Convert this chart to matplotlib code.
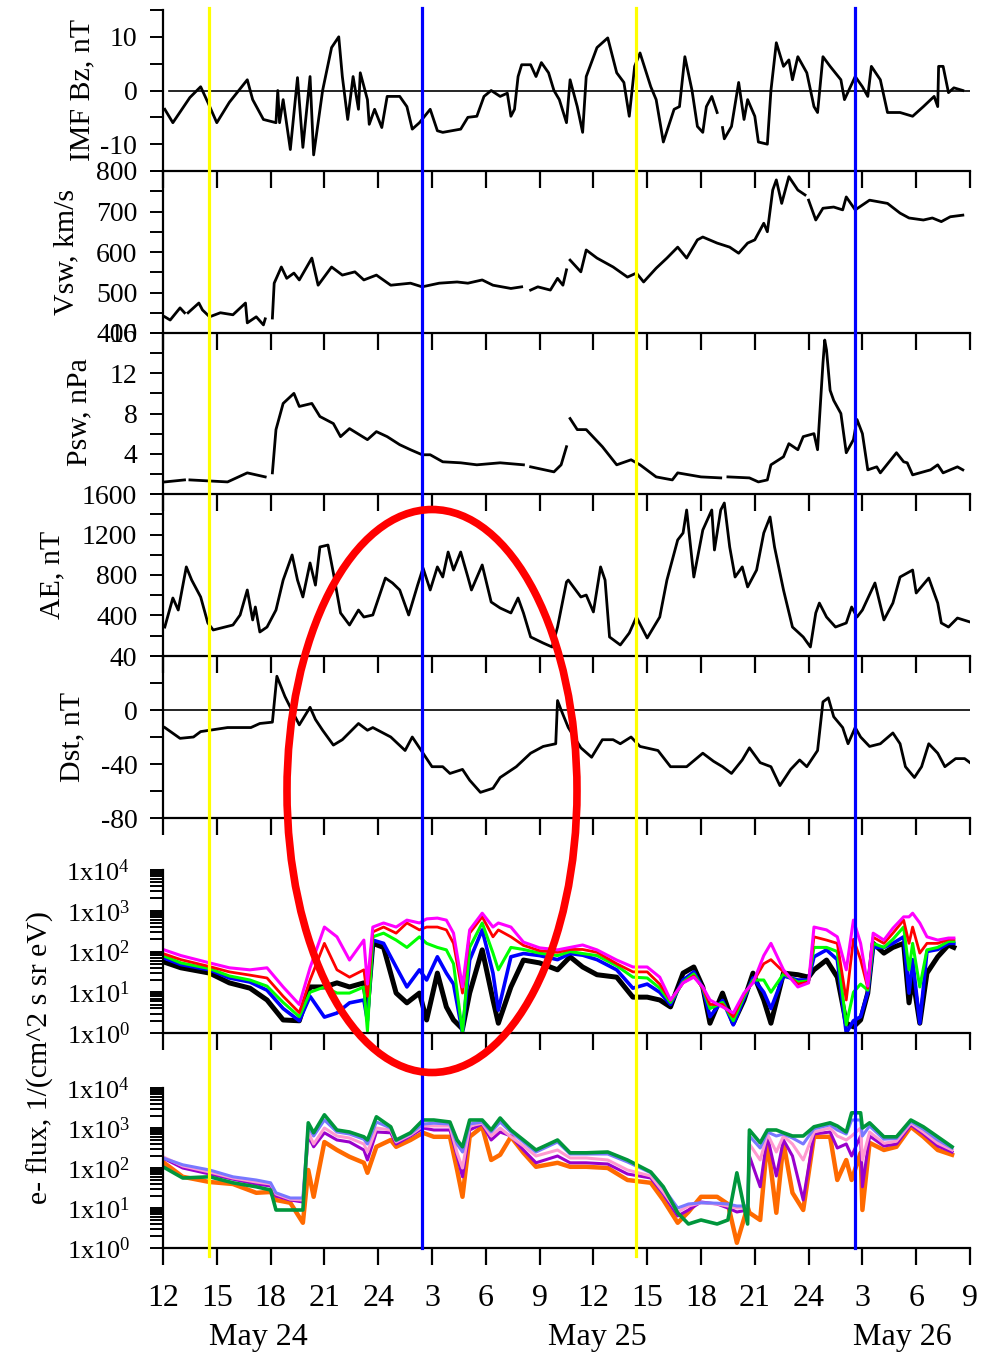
import matplotlib
matplotlib.use('Agg')
import matplotlib.pyplot as plt
import matplotlib.ticker as mticker
from matplotlib.lines import Line2D
from matplotlib.patches import Ellipse
import matplotlib.transforms as mtransforms
import numpy as np

plt.rcParams['font.family'] = 'Liberation Serif'
plt.rcParams['mathtext.fontset'] = 'custom'
plt.rcParams['mathtext.rm'] = 'Liberation Serif'
plt.rcParams['axes.unicode_minus'] = False

# time axis: hours since May 24 12:00 UT (None = data gap)
bz_t = [0.1, 0.55, 1.5, 2.1, 2.5, 3.0, 3.7, 4.7, 5.0, 5.6, 6.3, 6.4, 6.5, 6.7, 7.1, 7.5, 7.8, 8.2, 8.4, 8.9,
        9.4, 9.8, 10.0, 10.3, 10.6, 10.9, 11.0, 11.4, 11.5, 11.8, 12.2, 12.5, 13.2, 13.6, 13.9, 14.3, 14.9, 15.3,
        15.6, 16.6, 17.0, 17.5, 17.9, 18.3, 18.8, 19.2, 19.4, 19.6, 19.8, 20.0, 20.5, 20.8, 21.1, 21.5, 21.8,
        22.1, 22.5, 22.7, 23.1, 23.4, 23.6, 24.2, 24.8, 25.3, 25.7, 26.0, 26.3, 26.6, 27.2, 27.5, 27.9, 28.5,
        28.8, 29.1, 29.5, 29.8, 30.1, 30.3, 30.6, 30.9, None, 31.2, 31.3, 31.7, 32.1, 32.4, 32.6, 33.0, 33.2,
        33.7, 33.9, 34.2, 34.6, 34.9, 35.1, 35.4, 35.9, 36.3, 36.5, 36.8, 37.2, 37.8, 38.0, 38.6, 39.0, 39.3,
        39.5, 40.0, 40.4, 41.1, 41.8, 42.4, 43.0, 43.2, 43.25, 43.5, 43.8, 44.1, 44.6]
bz_v = [-3.5, -6, -1.3, 0.7, -2.2, -6, -2.2, 2, -1.7, -5.4, -6, 0, -6, -1.7, -11, 2.4, -10.6, 2.6, -12, 0,
        8, 10, 2.6, -5.4, 2.6, -3.5, 3.3, -1.7, -6.3, -3.5, -6.9, -1.1, -1.1, -3, -7.2, -6, -3.5, -7.5,
        -7.8, -7.2, -5, -4.8, -1.1, 0, -1.1, -0.5, -4.8, -3.5, 2.6, 4.8, 4.8, 2.6, 5.2, 3.3, 0,
        -1.7, -6, 2, -3, -7.8, 2.6, 8, 9.8, 3.3, 1.5, -4.8, 4.5, 7, 0.7, -1.7, -9.6, -3.5,
        -3, 6.3, 0, -6.7, -7.8, -3, -1.1, -4.1, None, -6.9, -9, -6.7, 1.5, -5.4, -1.7, -4.8, -9.6,
        -10, 0, 8.9, 4.5, 5.7, 2, 6.3, 3.3, -3, -4.1, 6.3, 4.5, 2, -1.7, 2.6, 0.7, -1.1,
        4.5, 2, -4.1, -4.1, -4.8, -3, -1.1, -3, 4.5, 4.5, -0.4, 0.5, 0]

vsw_t = [0.1, 0.4, 0.95, 1.2, None, 1.4, 2.0, 2.2, 2.6, 3.2, 3.9, 4.6, 4.7, 5.2, 5.6, 5.7, None, 6.1, 6.2, 6.6,
         6.9, 7.3, 7.6, 8.3, 8.65, 9.4, 10.0, 10.7, 11.2, 11.9, 12.7, 13.8, 14.45, 15.4, 16.4, 17.0, 17.8, 18.4,
         19.4, 20.0, None, 20.5, 20.9, 21.6, 22.0, 22.3, 22.5, None, 22.7, 23.3, 23.6, 24.2, 25.1, 25.9, 26.4,
         26.8, 27.5, 28.1, 28.7, 29.2, 29.8, 30.1, 30.9, 31.6, 32.1, 32.6, 33.0, 33.5, 33.7, 34.0, 34.2, 34.5,
         34.9, 35.4, 35.8, None, 36.0, 36.4, 36.8, 37.4, 37.9, 38.1, 38.6, 39.4, 40.4, 41.1, 41.6, 42.4, 42.9,
         43.4, 43.9, 44.6]
vsw_v = [440, 432, 462, 450, None, 450, 474, 457, 440, 450, 445, 474, 425, 440, 420, 435, None, 437, 523, 563,
         535, 548, 531, 585, 518, 563, 543, 551, 531, 543, 518, 523, 514, 523, 526, 523, 531, 518,
         510, 514, None, 506, 514, 506, 535, 518, 556, None, 580, 551, 605, 585, 563, 538, 548,
         526, 560, 585, 612, 585, 630, 637, 622, 612, 597, 622, 630, 671, 650, 753, 778, 720,
         786, 753, 741, None, 728, 679, 708, 711, 704, 736, 704, 728, 720, 696, 684, 679, 684,
         675, 687, 691]

psw_t = [0.1, 1.2, None, 1.5, 3.6, 4.7, 5.7, None, 6.1, 6.3, 6.7, 7.3, 7.6, 8.3, 8.75, 9.5, 9.9, 10.4, 11.4,
         11.9, 12.5, 13.2, 13.8, 14.45, 14.9, 15.6, 16.6, 17.5, 18.8, 20.1, None, 20.5, 21.8, 22.2, 22.5, None,
         22.7, 23.1, 23.6, 24.5, 25.3, 26.1, 26.6, 27.5, 28.4, 28.7, 30.0, 31.1, None, 31.5, 32.7, 33.2, 33.7,
         33.9, 34.6, 34.9, 35.4, 35.7, 36.3, 36.5, 36.8, 36.9, 37.0, 37.2, 37.4, 37.8, 38.1, 38.5, 38.7, 39.0,
         39.3, 39.8, 40.0, 40.9, 41.3, 41.5, 41.8, 42.8, 43.2, 43.5, 44.3, 44.6]
psw_v = [1.2, 1.4, None, 1.4, 1.2, 2.1, 1.7, None, 2.1, 6.4, 9.0, 10.0, 8.7, 9.0, 7.7, 7.0, 5.7, 6.5, 5.4,
         6.2, 5.7, 4.9, 4.4, 3.9, 3.9, 3.2, 3.1, 2.9, 3.1, 2.9, None, 2.7, 2.2, 2.9, 4.7, None,
         7.5, 6.4, 6.4, 4.7, 2.9, 3.4, 2.9, 1.7, 1.4, 2.1, 1.7, 1.6, None, 1.7, 1.6, 1.2, 1.4,
         2.9, 3.7, 5.0, 4.4, 5.7, 6.0, 4.4, 13.0, 15.3, 14.3, 10.3, 9.3, 8.0, 4.1, 5.4, 7.4, 6.0,
         2.4, 2.7, 2.1, 4.1, 3.2, 3.1, 1.9, 2.4, 2.9, 2.1, 2.7, 2.4]

ae_t = [0.1, 0.55, 0.85, 1.3, 1.6, 2.1, 2.5, 2.8, 3.9, 4.3, 4.7, 5.0, 5.15, 5.4, 5.8, 6.3, 6.7, 7.2, 7.5, 7.8,
        8.2, 8.5, 8.75, 9.2, 9.5, 9.9, 10.4, 10.9, 11.2, 11.7, 12.4, 12.8, 13.2, 13.7, 14.2, 14.5, 14.9, 15.3,
        15.6, 15.9, 16.2, 16.6, 17.0, 17.2, 17.8, 18.3, 18.8, 19.4, 19.8, 20.1, 20.5, 21.2, 21.7, 22.0, 22.5,
        22.6, 23.3, 23.6, 24.0, 24.4, 24.65, 24.9, 25.5, 26.0, 26.4, 27.0, 27.7, 28.1, 28.7, 29.0, 29.2, 29.6,
        30.1, 30.6, 30.75, 31.1, 31.3, 31.6, 31.9, 32.3, 32.6, 33.1, 33.5, 33.85, 34.1, 34.6, 35.1, 35.7,
        36.1, 36.4, 36.6, 37.0, 37.5, 38.1, 38.4, 38.7, 39.0, 39.7, 40.2, 40.7, 41.1, 41.8, 42.0, 42.7, 43.2,
        43.4, 43.8, 44.3, 45.0]
ae_v = [286, 573, 454, 880, 750, 583, 326, 257, 306, 405, 652, 356, 484, 237, 286, 454, 750, 998, 750, 583,
        919, 700, 1077, 1096, 820, 425, 306, 454, 385, 405, 770, 721, 652, 405, 701, 869, 652, 880,
        780, 1027, 849, 1027, 780, 652, 899, 533, 474, 425, 573, 425, 188, 128, 89, 286, 731,
        750, 583, 602, 435, 880, 750, 188, 109, 227, 385, 178, 385, 750, 1146, 1215, 1442, 780,
        1244, 1442, 1047, 1442, 1511, 1077, 780, 880, 682, 849, 1215, 1373, 1077, 652, 286, 188,
        89, 425, 523, 385, 286, 326, 484, 385, 454, 721, 356, 523, 780, 849, 622, 770, 523,
        326, 286, 375, 336]

dst_t = [0.1, 0.95, 1.7, 2.1, 3.6, 4.9, 5.4, 6.1, 6.35, 6.8, 7.1, 7.6, 8.2, 8.5, 8.9, 9.5, 10.0, 10.9, 11.4,
         11.7, 12.7, 13.1, 13.5, 13.9, 14.5, 15.0, 15.6, 16.0, 16.7, 17.1, 17.7, 18.4, 18.8, 19.7, 20.5, 21.2,
         21.9, 22.0, 22.2, 22.6, 23.3, 23.9, 24.5, 25.1, 25.5, 26.1, 26.6, 27.6, 28.3, 29.2, 30.1, 30.7, 31.2,
         31.7, 32.3, 32.7, 33.3, 33.9, 34.4, 35.0, 35.5, 35.9, 36.5, 36.8, 37.1, 37.4, 37.9, 38.2, 38.6, 38.9,
         39.4, 40.0, 40.7, 41.1, 41.4, 41.9, 42.3, 42.7, 43.2, 43.6, 44.2, 44.7, 45.0]
dst_v = [-13, -21, -20, -16, -13, -13, -10, -9, 25, 10, 2, -11, 2, -7, -15, -26, -22, -10, -15,
         -13, -20, -25, -30, -20, -32, -42, -42, -47, -44, -52, -61, -58, -50, -42, -32, -27,
         -25, 7, 0, -13, -28, -35, -22, -22, -25, -20, -27, -30, -42, -42, -32, -38, -42,
         -47, -37, -28, -39, -42, -56, -44, -37, -42, -30, 6, 9, -5, -13, -25, -13, -20,
         -27, -25, -17, -25, -42, -50, -42, -25, -32, -42, -36, -36, -39]

# electron flux, log10 of 1/(cm^2 s sr eV)
flux1_t = [0, 1, 2.6, 3.7, 4.85, 5.8, 6.7, 7.6, 8.2, 9.0, 9.7, 10.4, 11.2, 11.4, 11.7, 12.3, 13.0, 13.6, 14.3,
           14.7, 15.3, 15.8, 16.2, 16.7, 17.1, 17.8, 18.4, 18.7, 19.4, 20.1, 21.0, 22.0, 22.7, 23.4, 24.2, 25.3,
           26.2, 27.0, 27.7, 28.3, 29.0, 29.6, 30.1, 30.5, 31.2, 31.8, 32.4, 32.9, 33.5, 33.9, 34.6, 35.4, 36.0,
           36.3, 37.0, 37.6, 38.1, 38.5, 38.9, 39.3, 39.6, 40.2, 40.7, 41.3, 41.6, 41.8, 42.2, 42.6, 43.2, 43.8,
           44.1]
flux1_black = [1.75, 1.6, 1.47, 1.23, 1.1, 0.81, 0.32, 0.3, 1.13, 1.13, 1.23, 1.13, 1.23, 0.6, 2.2, 2.1, 0.98,
               0.74, 0.98, 0.32, 1.47, 0.64, 0.32, 0.1, 0.98, 2.04, 0.81, 0.24, 1.13, 1.79, 1.72, 1.55, 1.87,
               1.62, 1.43, 1.37, 0.88, 0.88, 0.81, 0.64, 1.47, 1.62, 1.13, 0.24, 0.98, 0.24, 0.81, 1.47, 0.81,
               0.24, 1.47, 1.43, 1.37, 1.55, 1.79, 1.37, 0.24, 0.15, 0.32, 0.98, 2.2, 1.96, 2.1, 2.2, 0.74,
               1.37, 0.24, 1.47, 1.87, 2.16, 2.1]
flux1_blue = [1.85, 1.68, 1.55, 1.35, 1.25, 1.05, 0.6, 0.3, 0.9, 0.39, 0.49, 0.74, 0.81, 0.3, 2.28, 2.2, 1.62,
              1.13, 1.55, 1.3, 1.87, 1.47, 1.2, 0.0, 1.79, 2.53, 1.47, 0.56, 1.87, 1.95, 1.9, 1.8, 1.95,
              1.91, 1.8, 1.55, 1.1, 1.2, 1.0, 0.7, 1.3, 1.5, 1.1, 0.4, 0.8, 0.2, 0.85, 1.35, 1.0,
              0.6, 1.4, 1.3, 1.3, 1.87, 2.04, 1.8, 0.0, 0.3, 0.4, 1.0, 2.1, 2.1, 2.2, 2.36, 0.98,
              1.8, 0.24, 2.0, 2.05, 2.2, 2.2]
flux1_green = [1.9, 1.72, 1.58, 1.4, 1.3, 1.15, 0.75, 0.4, 1.0, 1.13, 0.98, 0.98, 1.13, 0.05, 2.36, 2.45, 2.28,
               2.1, 2.36, 2.2, 2.1, 2.04, 1.7, 0.0, 2.1, 2.7, 1.96, 1.55, 2.1, 2.05, 1.96, 1.9, 2.0,
               1.95, 1.9, 1.65, 1.37, 1.35, 1.1, 0.75, 1.25, 1.45, 1.1, 0.6, 0.75, 0.3, 0.9, 1.3, 1.3,
               1.0, 1.45, 1.25, 1.28, 2.1, 2.1, 2.0, 0.2, 1.0, 1.2, 1.05, 2.2, 2.1, 2.3, 2.6, 1.55,
               2.2, 1.13, 2.04, 2.1, 2.25, 2.25]
flux1_red = [1.95, 1.8, 1.63, 1.5, 1.42, 1.35, 0.9, 0.5, 1.3, 2.2, 1.55, 1.37, 1.55, 0.9, 2.48, 2.6, 2.45,
             2.7, 2.53, 2.6, 2.6, 2.53, 2.2, 0.98, 2.45, 2.85, 2.36, 2.53, 2.36, 2.15, 2.02, 1.98, 2.05,
             2.05, 1.98, 1.7, 1.5, 1.5, 1.2, 0.8, 1.23, 1.4, 1.1, 0.7, 0.7, 0.4, 0.95, 1.25, 1.7,
             1.8, 1.5, 1.2, 1.25, 2.36, 2.28, 2.2, 0.81, 2.3, 1.8, 1.1, 2.35, 2.2, 2.45, 2.77, 2.2,
             2.6, 1.96, 2.2, 2.2, 2.3, 2.3]
flux1_magenta = [2.05, 1.9, 1.72, 1.6, 1.55, 1.6, 1.13, 0.7, 1.6, 2.6, 2.36, 1.79, 2.28, 1.2, 2.6, 2.7, 2.6,
                 2.77, 2.7, 2.8, 2.82, 2.77, 2.45, 1.13, 2.53, 2.94, 2.6, 2.7, 2.6, 2.23, 2.09, 2.04, 2.1,
                 2.16, 2.04, 1.79, 1.62, 1.62, 1.37, 0.81, 1.23, 1.37, 1.13, 0.81, 0.64, 0.49, 0.98, 1.23, 1.9,
                 2.2, 1.55, 1.13, 1.23, 2.6, 2.53, 2.36, 1.55, 2.77, 2.2, 1.15, 2.45, 2.28, 2.57, 2.85, 2.85,
                 2.94, 2.7, 2.36, 2.28, 2.33, 2.33]

flux2_t = [0, 1.1, 2.6, 3.9, 5.2, 6.0, 6.3, 7.1, 7.8, 8.1, 8.4, 9.0, 9.7, 10.4, 11.2, 11.4, 11.9, 12.7, 13.0,
           13.8, 14.5, 15.1, 16.0, 16.4, 16.7, 17.1, 17.8, 18.3, 18.8, 19.4, 20.1, 20.8, 22.0, 22.7, 23.6, 24.8,
           25.9, 27.2, 27.9, 28.7, 29.3, 30.0, 30.9, 31.5, 32.0, 32.6, 32.7, 33.3, 33.7, 34.2, 34.6, 35.1, 35.7,
           36.3, 37.2, 37.6, 38.1, 38.4, 38.9, 39.0, 39.4, 40.2, 40.9, 41.7, 42.4, 43.2, 44.0]
flux2_orange = [2.15, 1.78, 1.65, 1.6, 1.38, 1.4, 1.2, 1.13, 0.63, 1.95, 1.28, 2.65, 2.45, 2.28, 2.13, 1.88,
                2.53, 2.7, 2.53, 2.7, 2.88, 2.78, 2.78, 1.95, 1.28, 2.78, 3.03, 2.2, 2.33, 2.78, 2.38, 2.03,
                2.13, 2.03, 2.03, 2.0, 1.7, 1.63, 1.2, 0.63, 0.9, 1.28, 1.28, 1.1, 0.13, 1.03, 0.88, 0.7,
                2.7, 0.88, 2.63, 1.38, 0.95, 2.78, 2.78, 1.7, 2.2, 1.7, 2.38, 0.95, 2.63, 2.45, 2.53, 3.03,
                2.78, 2.45, 2.33]
flux2_purple = [2.25, 2.0, 1.85, 1.72, 1.6, 1.55, 1.3, 1.2, 1.15, 2.8, 2.53, 2.88, 2.7, 2.65, 2.45, 2.2,
                2.9, 2.88, 2.6, 2.8, 3.0, 2.95, 2.95, 2.3, 1.78, 2.95, 3.1, 2.7, 2.9, 2.8, 2.45, 2.13,
                2.3, 2.13, 2.13, 2.1, 1.85, 1.75, 1.35, 0.8, 0.95, 1.15, 1.1, 1.0, 0.9, 0.95, 2.3, 1.53,
                2.8, 1.8, 2.7, 2.3, 1.2, 2.85, 2.9, 2.5, 2.6, 2.3, 2.8, 1.53, 2.8, 2.55, 2.6, 3.08,
                2.85, 2.55, 2.4]
flux2_pink = [2.28, 2.05, 1.9, 1.75, 1.65, 1.6, 1.35, 1.22, 1.2, 2.9, 2.6, 3.0, 2.8, 2.75, 2.6, 2.4,
              3.0, 2.95, 2.65, 2.83, 3.05, 3.05, 3.05, 2.38, 2.0, 3.05, 3.12, 2.8, 3.0, 2.78, 2.55, 2.3,
              2.45, 2.25, 2.25, 2.2, 1.95, 1.8, 1.4, 0.9, 1.05, 1.13, 1.1, 1.05, 1.0, 1.0, 2.6, 2.2,
              2.85, 2.4, 2.8, 2.6, 2.2, 2.9, 3.0, 2.8, 2.7, 2.8, 3.0, 2.2, 2.9, 2.62, 2.67, 3.12,
              2.9, 2.62, 2.45]
flux2_blue = [2.25, 2.08, 1.95, 1.78, 1.7, 1.63, 1.38, 1.25, 1.25, 3.05, 2.8, 3.2, 2.9, 2.85, 2.72, 2.6,
              3.15, 3.0, 2.68, 2.86, 3.1, 3.12, 3.1, 2.6, 2.4, 3.1, 3.15, 2.9, 3.15, 2.9, 2.65, 2.4,
              2.65, 2.35, 2.35, 2.35, 2.15, 1.88, 1.5, 1.0, 1.1, 1.13, 1.12, 1.1, 1.05, 1.05, 2.8, 2.5,
              2.9, 2.8, 2.85, 2.75, 2.6, 2.98, 3.08, 2.95, 2.85, 3.2, 3.2, 2.8, 3.05, 2.72, 2.74, 3.16,
              2.97, 2.7, 2.5]
flux2_green = [2.03, 1.75, 1.78, 1.63, 1.53, 1.45, 0.95, 0.95, 0.95, 3.13, 2.88, 3.33, 2.95, 2.9, 2.78, 2.7,
               3.28, 3.03, 2.7, 2.88, 3.2, 3.2, 3.15, 2.7, 2.53, 3.2, 3.2, 2.95, 3.25, 2.95, 2.7, 2.45,
               2.7, 2.38, 2.38, 2.4, 2.2, 1.9, 1.53, 0.88, 0.6, 0.7, 0.6, 0.7, 1.88, 0.6, 2.95, 2.63,
               2.95, 2.95, 2.88, 2.8, 2.8, 3.03, 3.13, 3.05, 2.9, 3.38, 3.38, 3.0, 3.13, 2.78, 2.78, 3.2,
               3.03, 2.78, 2.53]

yellow_t = [2.57, 26.4]
blue_t = [14.45, 38.6]

xtick_hours = list(range(0, 46, 3))
xtick_labels = ['12', '15', '18', '21', '24', '3', '6', '9', '12', '15', '18', '21', '24', '3', '6', '9']
day_labels = ['May 24', 'May 25', 'May 26']


def arr(v):
    return np.array(v, dtype=float)


W, H = 981, 1356
fig = plt.figure(figsize=(W / 100, H / 100), dpi=100)


def px_axes(top, bottom):
    return fig.add_axes([163 / W, 1 - bottom / H, 807 / W, (bottom - top) / H])


ax1 = px_axes(10, 171)
ax2 = px_axes(171, 333)
ax3 = px_axes(333, 494)
ax4 = px_axes(494, 656)
ax5 = px_axes(656, 818)
ax6 = px_axes(870, 1033)
ax7 = px_axes(1088, 1248)
axes = [ax1, ax2, ax3, ax4, ax5, ax6, ax7]

lw = 2.0
ax1.plot(arr(bz_t), arr(bz_v), color='black', lw=lw)
ax1.axhline(0, xmin=0.007, color='black', lw=1.2)
ax2.plot(arr(vsw_t), arr(vsw_v), color='black', lw=lw)
ax3.plot(arr(psw_t), arr(psw_v), color='black', lw=lw)
ax4.plot(arr(ae_t), arr(ae_v), color='black', lw=lw)
ax5.plot(arr(dst_t), arr(dst_v), color='black', lw=lw)
ax5.axhline(0, color='black', lw=1.2)

for vals, c, w in [(flux1_black, 'black', 3.6), (flux1_blue, '#0000ff', 2.6), (flux1_green, '#00ff00', 2.2),
                   (flux1_red, '#ff0000', 2.0), (flux1_magenta, '#ff00ff', 2.2)]:
    ax6.plot(arr(flux1_t), 10 ** arr(vals), color=c, lw=w)
for vals, c, w in [(flux2_orange, '#ff6a00', 3.2), (flux2_purple, '#9900cc', 2.2), (flux2_pink, '#ff9ad0', 2.2),
                   (flux2_blue, '#7878ff', 2.2), (flux2_green, '#00963c', 2.6)]:
    ax7.plot(arr(flux2_t), 10 ** arr(vals), color=c, lw=w)


# y axes
def lin_ticks(ax, lo, hi, labelled, minor):
    ax.set_ylim(lo, hi)
    ax.yaxis.set_major_locator(mticker.FixedLocator(labelled))
    ax.yaxis.set_minor_locator(mticker.FixedLocator(minor))


lin_ticks(ax1, -15, 15, [-10, 0, 10], [-15, -5, 5, 15])
lin_ticks(ax2, 400, 800, [400, 500, 600, 700, 800], [450, 550, 650, 750])
lin_ticks(ax3, 0, 16, [4, 8, 12, 16], [0, 2, 6, 10, 14])
lin_ticks(ax4, 0, 1600, [400, 800, 1200, 1600], [0, 200, 600, 1000, 1400])
lin_ticks(ax5, -80, 40, [-80, -40, 0, 40], [-60, -20, 20])

for ax in [ax6, ax7]:
    ax.set_yscale('log')
    ax.set_ylim(1, 1e4)
    ax.yaxis.set_major_locator(mticker.FixedLocator([1, 10, 100, 1000, 10000]))
    ax.yaxis.set_major_formatter(mticker.FuncFormatter(
        lambda v, p: r'$\mathregular{1x10^{%d}}$' % round(np.log10(v))))
    ax.yaxis.set_minor_locator(mticker.LogLocator(base=10, subs=np.arange(2, 10), numticks=20))
    ax.yaxis.set_minor_formatter(mticker.NullFormatter())

for ax in axes:
    ax.set_xlim(0, 45)
    ax.patch.set_visible(False)
    ax.spines['top'].set_visible(False)
    ax.spines['right'].set_visible(False)
    ax.spines['left'].set_linewidth(1.6)
    ax.spines['bottom'].set_linewidth(1.6)
    ax.set_xticks(xtick_hours)
    ax.tick_params(axis='x', direction='out', length=12, width=1.6, labelbottom=False)
    ax.tick_params(axis='y', which='both', direction='out', length=9.5, width=1.4, labelsize=20, pad=9)

ax6.tick_params(axis='y', which='both', labelsize=19, pad=14)
ax7.tick_params(axis='y', which='both', labelsize=19, pad=14)
ax7.set_xticklabels(xtick_labels)
ax7.tick_params(axis='x', labelbottom=True, labelsize=23, pad=14)

# y labels
ylab = [('IMF Bz, nT', 82, 90), ('Vsw, km/s', 66, 252), ('Psw, nPa', 79, 412), ('AE, nT', 52, 575),
        ('Dst, nT', 72, 737), ('e- flux, 1/(cm^2 s sr eV)', 40, 1058)]
for txt, x, y in ylab:
    fig.text(x / W, 1 - y / H, txt, rotation=90, ha='center', va='center', fontsize=21.5)

for txt, x in zip(day_labels, [258, 597, 902]):
    fig.text(x / W, 1 - 1338 / H, txt, ha='center', va='center', fontsize=23)

# event markers spanning all panels
trans = mtransforms.blended_transform_factory(ax7.transData, fig.transFigure)
for t in yellow_t:
    fig.add_artist(Line2D([t, t], [1 - 8 / H, 1 - 1256 / H], transform=trans, color='#ffff00', lw=2.3, zorder=3))
for t in blue_t:
    fig.add_artist(Line2D([t, t], [1 - 8 / H, 1 - 1248 / H], transform=trans, color='#0000ff', lw=2.3, zorder=3))

fig.add_artist(Ellipse((432 / W, 1 - 791 / H), 290 / W, 563 / H, transform=fig.transFigure,
                       fill=False, edgecolor='#ff0000', lw=5.5, zorder=5))

plt.savefig('out.png', dpi=100)
